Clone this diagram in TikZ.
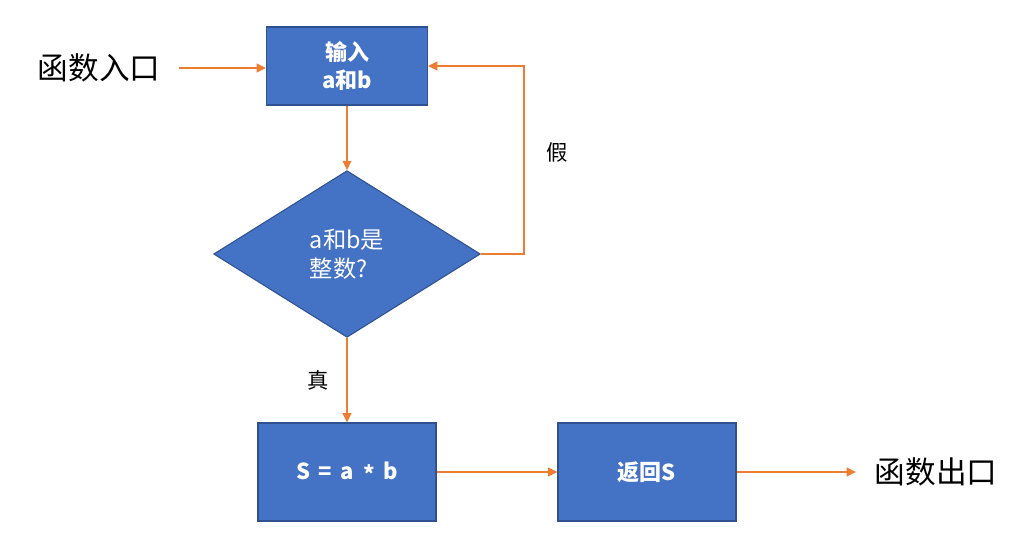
\documentclass[tikz,border=0pt]{standalone}
\usepackage{fontspec}
\setmainfont{Noto Sans CJK SC}
\usepackage{tikz}
\usetikzlibrary{arrows.meta, positioning, shapes.geometric}
\usepackage{xcolor}
\definecolor{boxblue}{HTML}{4472C4}
\definecolor{boxedge}{HTML}{2F528F}
\definecolor{flowline}{HTML}{ED7D31}

\begin{document}
\begin{tikzpicture}[x=0.75pt, y=-0.75pt,
    proc/.style={draw=boxedge, fill=boxblue, text=white, line width=0.8pt,
                 font=\fontsize{16.5}{21}\selectfont\bfseries, align=center},
    cond/.style={proc, diamond, aspect=1.6, inner sep=0pt,
                 minimum width=200pt, minimum height=125pt,
                 font=\fontsize{17.5}{22}\selectfont, align=left},
    term/.style={font=\fontsize{23}{27}\selectfont, inner sep=0pt, outer sep=14pt},
    tag/.style={font=\fontsize{16}{19}\selectfont},
    flow/.style={draw=flowline, line width=1.3pt,
                 -{Triangle[length=7pt, width=6.5pt]}}]
  \useasboundingbox (0,0) rectangle (1032,553);

  % terminals
  \node[term] (entry) at (99,68) {函数入口};
  \node[term] (exit)  at (936,472) {函数出口};

  % process steps
  \node[proc, minimum width=120.75pt, minimum height=58.5pt] (input) at (347,66)
    {输入\\a和b};
  \node[cond] (check) at (347,254) {a和b是\\整数?};
  \node[proc, minimum width=133.5pt, minimum height=73.5pt] (calc) at (347,472)
    {S\hspace{6.5pt}=\hspace{6.5pt}a\hspace{6.5pt}\raisebox{-0.3ex}{*}\hspace{6.5pt}b};
  \node[proc, minimum width=133.5pt, minimum height=73.5pt] (ret) at (647,472)
    {返回S};

  % connectors
  \draw[flow] (entry) -- (input.west |- entry);
  \draw[flow] (input) -- (check);
  \draw[flow] (check.east) -- ++(43,0) |- (input.east);
  \draw[flow] (check) -- (calc);
  \draw[flow] (calc) -- (ret);
  \draw[flow] (ret) -- (exit.west |- ret);

  % branch labels
  \node[tag] (no)  at (557,152) {假};
  \node[tag] (yes) at (318,380) {真};
\end{tikzpicture}
\end{document}
